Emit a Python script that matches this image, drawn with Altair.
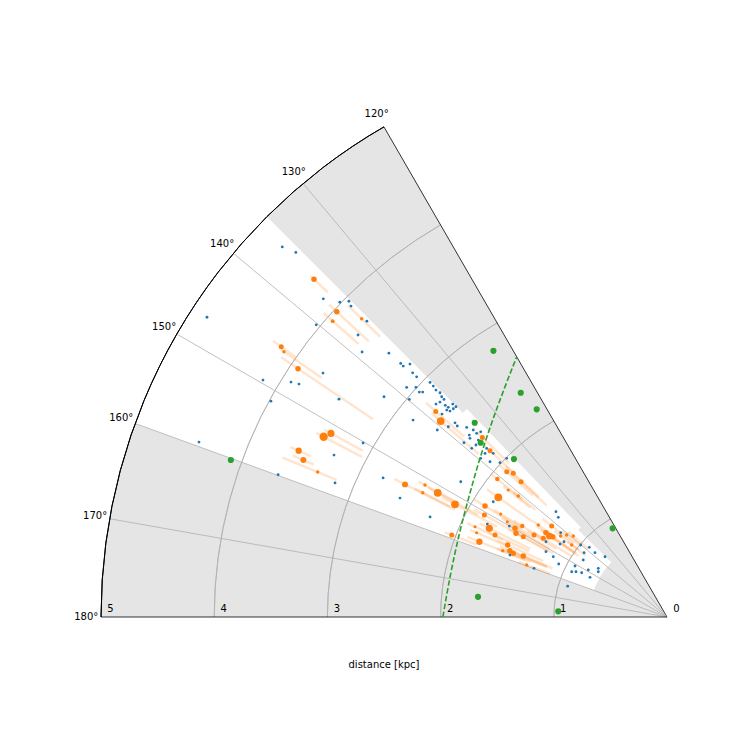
import math
import altair as alt
import pandas as pd

# ---------------- data (Galactic longitude in degrees, distance in kpc) ----------------
lon_ticks = [120, 130, 140, 150, 160, 170, 180]
lon_tick_labels = ["120°", "130°", "140°", "150°", "160°", "170°", "180°"]
dist_ticks = [0, 1, 2, 3, 4, 5]
dist_tick_labels = ["0", "1", "2", "3", "4", "5"]
grid_dist = [1, 2, 3, 4]

blue_lon = [136.1, 135.5, 146.9, 140.2, 137.2, 136.1, 135.2, 135.45, 135.4, 137.6, 139.0,
            149.6, 148.0, 147.66, 144.65, 151.4, 146.4, 159.5, 154.06, 150.2, 159.9, 158.0,
            136.5, 153.9, 155.98, 142.2, 157.1,
            136.39, 136.42, 135.45, 136.16, 136.18, 135.28, 135.33, 135.5, 135.34, 135.64, 135.69,
            142.1, 138.58, 137.54, 137.74, 137.36, 139.81, 137.32, 136.56, 136.32, 136.2, 135.17,
            135.1, 136.78, 136.49, 135.73, 137.94,
            138.97, 137.5, 137.67, 140.85,
            136.56, 137.37, 139.35, 137.99, 136.01, 136.01, 135.16, 136.91, 136.7, 138.03, 139.58,
            138.74, 137.26, 135.29, 146.74, 146.43, 137.79, 136.83, 139.18,
            152.64, 150.02, 158.45, 159.89,
            136.51, 137.47, 141.59, 143.83, 145.7, 148.1, 151.64, 152.07, 153.92, 140.16, 138.11,
            138.23, 142.23, 145.75, 149.15, 144.67, 146.6, 151.0, 154.58, 153.54, 152.56, 152.73,
            162.73, 135.79]
blue_dist = [4.717, 4.597, 4.851, 4.033, 4.138, 4.011, 3.960, 3.917, 3.723, 3.696, 3.569,
             4.138, 3.917, 3.848, 3.726, 3.985, 3.479, 4.414, 3.271, 3.094, 3.658, 3.163,
             3.387, 2.793, 2.582, 2.839, 2.272,
             3.249, 3.216, 3.186, 3.115, 3.065, 2.946, 2.903, 2.861, 2.819, 2.784, 2.753,
             3.168, 3.067, 3.006, 2.956, 2.934, 2.980, 2.776, 2.762, 2.708, 2.677, 2.669,
             2.632, 2.670, 2.643, 2.636, 2.677,
             2.561, 2.540, 2.506, 2.617,
             2.437, 2.374, 2.364, 2.271, 2.379, 2.337, 2.321, 2.181, 2.109, 2.162, 2.162,
             2.080, 2.009, 1.993, 2.179, 1.842, 2.350, 2.285, 2.280,
             1.787, 1.608, 1.491, 1.251,
             1.352, 1.303, 1.199, 1.127, 1.144, 1.259, 1.215, 1.137, 1.065, 0.993, 0.922,
             0.853, 0.927, 0.895, 0.810, 0.744, 0.727, 0.929, 0.932, 0.898, 0.849, 0.765,
             0.919, 0.764]

orange_lon = [136.25, 137.24, 138.48, 135.67, 144.98, 145.29, 146.06, 152.29, 151.34, 155.7, 156.65, 157.46,
              138.35, 139.1, 153.14, 151.39, 151.54, 153.03, 152.01, 159.15,
              135.78, 136.79, 137.81, 136.93, 137.17, 140.88, 144.64, 141.33, 140.86, 148.63,
              150.82, 153.47, 154.81, 156.11, 154.51, 148.23, 149.17, 149.73, 147.83, 151.0, 150.8,
              148.35, 158.14, 155.68, 158.03, 157.11, 157.49, 157.0, 159.67, 144.44,
              141.72, 145.13, 145.46, 144.91, 147.54, 140.73, 142.93, 139.16, 142.69]
orange_dist = [4.317, 3.973, 3.944, 3.771, 4.161, 4.116, 3.929, 3.426, 3.383, 3.570, 3.499, 3.341,
               2.734, 2.645, 2.594, 2.435, 2.304, 2.421, 2.121, 2.035,
               2.276, 2.145, 1.911, 1.859, 1.758, 1.932, 1.827, 1.796, 1.694, 1.883,
               1.848, 1.754, 1.874, 1.839, 1.683, 1.728, 1.643, 1.555, 1.510, 1.525, 1.454,
               1.380, 1.786, 1.544, 1.565, 1.506, 1.470, 1.379, 1.322, 1.398,
               1.298, 1.303, 1.262, 1.234, 1.295, 1.145, 1.055, 1.094, 1.181]
orange_lo = [4.150, 3.588, 3.640, 3.544, 4.000, 3.713, 3.130, 3.040, 3.060, 3.450, 3.400, 3.161,
             2.40, 2.20, 2.10, 2.15, 1.90, 2.15, 1.70, 1.80,
             1.95, 1.85, 1.60, 1.55, 1.45, 1.65, 1.45, 1.55, 1.50, 1.50,
             1.45, 1.35, 1.60, 1.55, 1.35, 1.50, 1.40, 1.20, 1.25, 1.20, 1.15,
             1.15, 1.35, 1.20, 1.30, 1.15, 1.15, 1.10, 1.10, 1.20,
             1.05, 1.00, 0.95, 0.98, 1.00, 0.98, 0.90, 0.92, 0.98]
orange_hi = [4.357, 4.067, 4.052, 3.940, 4.250, 4.150, 4.110, 3.500, 3.450, 3.650, 3.600, 3.676,
             2.85, 2.75, 2.70, 2.50, 2.40, 2.50, 2.25, 2.10,
             2.35, 2.25, 2.00, 1.95, 1.85, 2.00, 1.95, 1.85, 1.75, 2.00,
             1.95, 1.85, 1.95, 1.90, 1.75, 1.80, 1.70, 1.65, 1.60, 1.60, 1.55,
             1.45, 1.90, 1.65, 1.62, 1.60, 1.55, 1.45, 1.40, 1.45,
             1.40, 1.40, 1.35, 1.33, 1.40, 1.20, 1.10, 1.15, 1.25]
orange_size = [30, 30, 15, 12, 25, 12, 30, 70, 50, 40, 35, 12,
               25, 60, 35, 12, 60, 12, 60, 25,
               25, 25, 25, 25, 25, 20, 60, 10, 12, 30,
               25, 50, 10, 10, 25, 10, 10, 30, 20, 30, 25,
               25, 40, 30, 12, 30, 30, 30, 12, 12,
               25, 30, 45, 30, 25, 12, 12, 12, 12]

green_lon = [123.1, 123.1, 122.1, 134.7, 136.9, 134.1, 121.5, 173.9, 177.0, 160.2]
green_dist = [2.808, 2.366, 2.166, 2.415, 2.254, 1.943, 0.919, 1.679, 0.962, 4.095]

arm_lon = [180.0, 169.6, 159.2, 149.3, 140.3, 132.2, 125.1, 120.0]
arm_dist = [1.980, 1.949, 1.971, 2.041, 2.157, 2.308, 2.488, 2.655]

# survey footprint (white): pieces in longitude/distance
fp_lon_min = [135.0, 133.9, 135.6]
fp_lon_max = [160.0, 160.0, 160.0]
fp_dist_min = [2.55, 1.1, 0.69]
fp_dist_max = [5.0, 2.55, 1.1]

LON_MIN, LON_MAX, R_MAX = 120, 180, 5.0

# ---------------- scales ----------------
W = 566
H = round(W * math.sin(math.radians(LON_MAX - LON_MIN)))
xs = alt.Scale(domain=[-R_MAX, 0], nice=False, zero=False)
ys = alt.Scale(domain=[0, R_MAX * math.sin(math.radians(LON_MAX - LON_MIN))], nice=False, zero=False)
rs = alt.Scale(type="linear", domain=[0, R_MAX], range=[0, W], nice=False, zero=True)

DEG = "PI/180"
X0 = dict(scale=xs, axis=None)
Y0 = dict(scale=ys, axis=None)


def xy(ch, lon="lon", dist="dist", px="x", py="y"):
    return ch.transform_calculate(
        **{px: f"datum.{dist}*cos(datum.{lon}*{DEG})",
           py: f"datum.{dist}*sin(datum.{lon}*{DEG})"})


def arc_layer(df, **mark):
    return alt.Chart(df).mark_arc(**mark).transform_calculate(
        t1=f"(90-datum.l1)*{DEG}", t2=f"(90-datum.l2)*{DEG}"
    ).encode(
        x=alt.X(datum=0, type="quantitative", **X0),
        y=alt.Y(datum=0, type="quantitative", **Y0),
        theta=alt.Theta("t1:Q", scale=None),
        theta2="t2:Q",
        radius=alt.Radius("r1:Q", scale=rs),
        radius2="r2:Q",
    )


bg = arc_layer(pd.DataFrame({"l1": [LON_MIN], "l2": [LON_MAX], "r1": [0], "r2": [R_MAX]}),
               fill="#e5e5e5", stroke=None)
white = arc_layer(pd.DataFrame({"l1": fp_lon_min, "l2": fp_lon_max,
                                "r1": fp_dist_min, "r2": fp_dist_max}),
                  fill="white", stroke="white", strokeWidth=0.3)
circles = arc_layer(pd.DataFrame({"l1": [LON_MIN] * len(grid_dist), "l2": [LON_MAX] * len(grid_dist),
                                  "r1": grid_dist, "r2": grid_dist}),
                    fillOpacity=0, stroke="#b0b0b0", strokeWidth=0.8)
outer = arc_layer(pd.DataFrame({"l1": [LON_MIN], "l2": [LON_MAX], "r1": [R_MAX], "r2": [R_MAX]}),
                  fillOpacity=0, stroke="black", strokeWidth=1)

spokes_df = pd.DataFrame({"lon": lon_ticks, "r0": 0.0, "r1": R_MAX})
spokes = alt.Chart(spokes_df).mark_rule(strokeWidth=0.8).transform_calculate(
    x0=f"datum.r0*cos(datum.lon*{DEG})", y0=f"datum.r0*sin(datum.lon*{DEG})",
    x1=f"datum.r1*cos(datum.lon*{DEG})", y1=f"datum.r1*sin(datum.lon*{DEG})",
    edge="datum.lon==120 || datum.lon==180 ? 'edge' : 'grid'"
).encode(
    x=alt.X("x0:Q", **X0), y=alt.Y("y0:Q", **Y0),
    x2="x1:Q", y2="y1:Q",
    color=alt.Color("edge:N", scale=alt.Scale(domain=["grid", "edge"], range=["#b0b0b0", "black"]), legend=None),
)

err_df = pd.DataFrame({"lon": orange_lon, "lo": orange_lo, "hi": orange_hi})
errbars = alt.Chart(err_df).mark_rule(color="#ff7f0e", opacity=0.2, strokeWidth=2.5).transform_calculate(
    xa=f"datum.lo*cos(datum.lon*{DEG})", ya=f"datum.lo*sin(datum.lon*{DEG})",
    xb=f"datum.hi*cos(datum.lon*{DEG})", yb=f"datum.hi*sin(datum.lon*{DEG})",
).encode(x=alt.X("xa:Q", **X0), y=alt.Y("ya:Q", **Y0), x2="xb:Q", y2="yb:Q")

blue = xy(alt.Chart(pd.DataFrame({"lon": blue_lon, "dist": blue_dist}))).mark_circle(
    color="#1f77b4", size=8, opacity=1).encode(
    x=alt.X("x:Q", **X0), y=alt.Y("y:Q", **Y0))

orange = xy(alt.Chart(pd.DataFrame({"lon": orange_lon, "dist": orange_dist, "s": orange_size}))).mark_circle(
    color="#ff7f0e", opacity=1).encode(
    x=alt.X("x:Q", **X0), y=alt.Y("y:Q", **Y0),
    size=alt.Size("s:Q", scale=None, legend=None))

green = xy(alt.Chart(pd.DataFrame({"lon": green_lon, "dist": green_dist}))).mark_circle(
    color="#2ca02c", size=38, opacity=1).encode(
    x=alt.X("x:Q", **X0), y=alt.Y("y:Q", **Y0))

arm = xy(alt.Chart(pd.DataFrame({"lon": arm_lon, "dist": arm_dist, "o": range(len(arm_lon))}))).mark_line(
    color="#2ca02c", strokeWidth=1.6, strokeDash=[5.5, 2.4], interpolate="monotone").encode(
    x=alt.X("x:Q", **X0), y=alt.Y("y:Q", **Y0), order="o:Q")

lon_lab = xy(alt.Chart(pd.DataFrame({"lon": lon_ticks, "dist": R_MAX * 1.026, "t": lon_tick_labels}))).mark_text(
    fontSize=10, font="DejaVu Sans", color="black", align="center", baseline="middle").encode(
    x=alt.X("x:Q", **X0), y=alt.Y("y:Q", **Y0), text="t:N")

dist_lab = alt.Chart(pd.DataFrame({"d": [-v for v in dist_ticks], "t": dist_tick_labels})).mark_text(
    fontSize=10, font="DejaVu Sans", color="black", align="center", baseline="middle", dx=9.5, dy=-8).encode(
    x=alt.X("d:Q", **X0), y=alt.Y(datum=0, type="quantitative", **Y0), text="t:N")

title = alt.Chart(pd.DataFrame({"t": ["distance [kpc]"]})).mark_text(
    fontSize=10, font="DejaVu Sans", color="black", align="center", baseline="middle", dy=48).encode(
    x=alt.X(datum=-R_MAX / 2, type="quantitative", **X0),
    y=alt.Y(datum=0, type="quantitative", **Y0), text="t:N")

chart = alt.layer(bg, white, circles, spokes, errbars, blue, orange, green, arm, outer, lon_lab, dist_lab, title
                  ).properties(
    width=W, height=H, autosize=alt.AutoSizeParams(type="none"),
    padding={"left": 93, "top": 119, "right": 75, "bottom": 125},
).configure_view(stroke=None)

chart.save("out.html", embed_options={"renderer": "svg", "actions": False})
